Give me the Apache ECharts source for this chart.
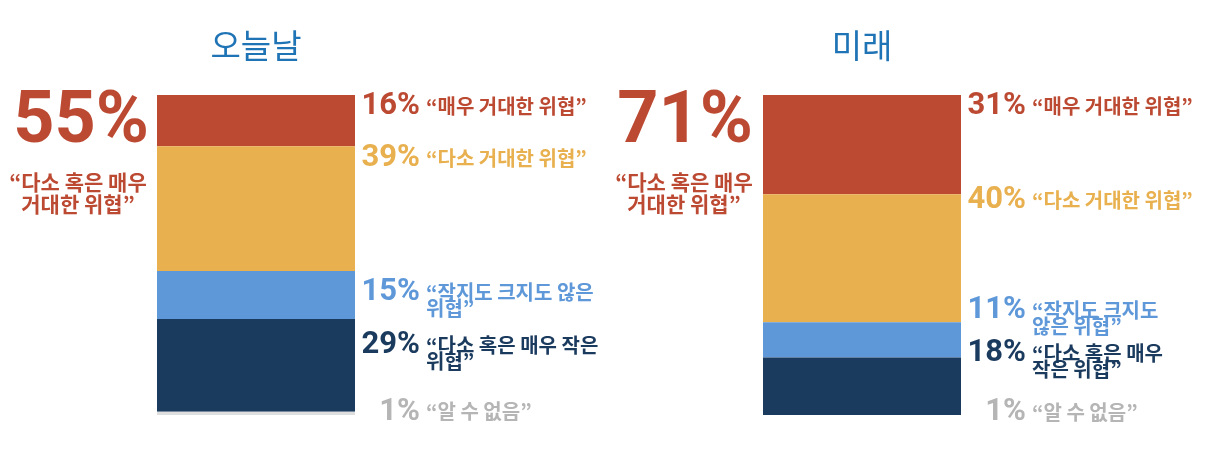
<!DOCTYPE html>
<html>
<head>
<meta charset="utf-8">
<script src="https://cdn.jsdelivr.net/npm/echarts@6/dist/echarts.min.js"></script>
<style>
	html, body { margin: 0; padding: 0; background: #fff; }
	#main { width: 1231px; height: 451px; }
</style>
</head>
<body>
<div id="main"></div>
<script>
'use strict';

//   패널 (오늘날 / 미래)
var panels = ['오늘날', '미래'];
//   위협 단계 (위에서 아래로)
var levels = ['매우 거대', '다소 거대', '중간', '다소 혹은 매우 작음', '알 수 없음'];
var todayValues = [16, 39, 15, 29, 1];
var futureValues = [31, 40, 11, 18, 1];
//   오른쪽 라벨 글
var todayLabels = ['“매우 거대한 위협”', '“다소 거대한 위협”', '“작지도 크지도 않은\n위협”', '“다소 혹은 매우 작은\n위협”', '“알 수 없음”'];
var futureLabels = ['“매우 거대한 위협”', '“다소 거대한 위협”', '“작지도 크지도\n않은 위협”', '“다소 혹은 매우\n작은 위협”', '“알 수 없음”'];
//   왼쪽 큰 숫자 설명
var sideNote = '“다소 혹은 매우\n거대한 위협”';

var colors = ['#bc4a33', '#e8b04e', '#5e98d9', '#1a3a5e', '#dedede'];
var labelColors = ['#bc4a33', '#e8b04e', '#5e98d9', '#1a3a5e', '#b5b5b5'];
//   라벨 세로 보정 (겹침 방지)
var labelShift = [[0, 1, 10, 15, -11], [0, -5, -23, -15, -14]];
var KR = '"Noto Sans CJK KR", "Noto Sans", sans-serif';

var chart = echarts.init(document.getElementById('main'));

var grids = [
	{ left: 157, top: 95, width: 198, height: 320 },
	{ left: 763, top: 95, width: 198, height: 320 }
];

var series = [];
[todayValues, futureValues].forEach(function (vals, pi) {
	levels.forEach(function (lv, li) {
		series.push({
			type: 'bar',
			name: lv,
			stack: 'p' + pi,
			xAxisIndex: pi,
			yAxisIndex: pi,
			barWidth: '100%',
			data: [vals[li]],
			itemStyle: { color: colors[li] },
			silent: true
		});
	});
});

chart.setOption({
	backgroundColor: '#fff',
	animation: false,
	grid: grids,
	xAxis: [0, 1].map(function (i) {
		return { type: 'category', gridIndex: i, data: [panels[i]], show: false };
	}),
	yAxis: [0, 1].map(function (i) {
		return { type: 'value', gridIndex: i, min: 0, max: 100, inverse: true, show: false };
	}),
	series: series
});

//   제목, 큰 숫자, 라벨
var graphics = [];
var centers = [256, 862];
var bigRight = [149, 753];
var noteCenter = [78, 684];
[todayValues, futureValues].forEach(function (vals, pi) {
	var txts = pi === 0 ? todayLabels : futureLabels;
	graphics.push({
		type: 'text', x: centers[pi], y: 45,
		style: { text: panels[pi], font: 'normal 33px ' + KR, fill: '#1f74b5', textAlign: 'center', textVerticalAlign: 'middle' }
	});
	graphics.push({
		type: 'text', x: bigRight[pi], y: 124,
		style: { text: (vals[0] + vals[1]) + '%', font: 'bold 72px Roboto', fill: '#bc4a33', textAlign: 'right', textVerticalAlign: 'middle' }
	});
	graphics.push({
		type: 'text', x: noteCenter[pi], y: 171,
		style: { text: sideNote, font: 'bold 21px ' + KR, lineHeight: 22, fill: '#bc4a33', textAlign: 'center', textVerticalAlign: 'top' }
	});

	var barRight = grids[pi].left + grids[pi].width;
	var start = 0;
	vals.forEach(function (v, li) {
		var y = chart.convertToPixel({ yAxisIndex: pi }, start) + 11 + labelShift[pi][li];
		start += v;
		graphics.push({
			type: 'text', x: barRight + 65, y: y,
			style: { text: v + '%', font: 'bold 31px Roboto', fill: labelColors[li], textAlign: 'right', textVerticalAlign: 'middle' }
		});
		graphics.push({
			type: 'text', x: barRight + 71, y: y - 8,
			style: { text: txts[li], font: 'bold 20px ' + KR, lineHeight: 16, fill: labelColors[li], textAlign: 'left', textVerticalAlign: 'top' }
		});
	});
});

chart.setOption({ graphic: graphics });
</script>
</body>
</html>
